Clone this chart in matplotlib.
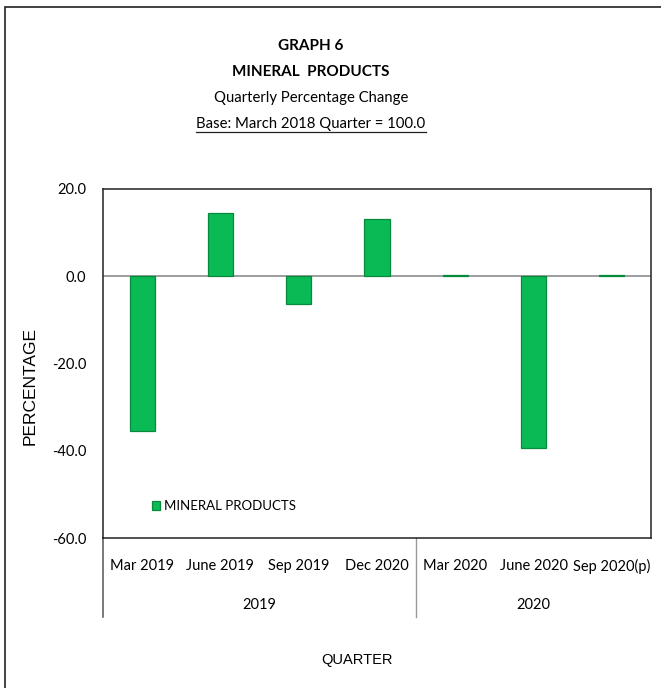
import matplotlib
matplotlib.use("Agg")
import matplotlib.pyplot as plt
from matplotlib.lines import Line2D
from matplotlib.patches import Rectangle

# data
quarters = ["Mar 2019", "June 2019", "Sep 2019", "Dec 2020",
            "Mar 2020", "June 2020", "Sep 2020(p)"]
years = ["2019", "2020"]
year_counts = [4, 3]
mineral_products = [-35.5, 14.6, -6.4, 13.2, 0.3, -39.4, 0.3]
y_ticks = [20.0, 0.0, -20.0, -40.0, -60.0]

CAL = ["Lato", "DejaVu Sans"]
ARIAL = ["Liberation Sans", "DejaVu Sans"]
W, H = 661, 688

fig = plt.figure(figsize=(W / 100, H / 100), dpi=100)
fig.patch.set_facecolor("white")

# outer chart border (right and bottom edges run off the image)
fig.add_artist(Rectangle((5 / W, -0.05), 1.2, 1 - 7 / H + 0.05,
                         transform=fig.transFigure, fill=False,
                         edgecolor="#222222", lw=1.2))

ax = fig.add_axes([103 / W, 150 / H, 548 / W, 349 / H])
x = list(range(len(quarters)))
ax.bar(x, mineral_products, width=0.32, color="#0ABA55",
       edgecolor="#078A3E", linewidth=0.9, zorder=3, label="MINERAL PRODUCTS")
ax.axhline(0, color="#8C8C8C", lw=1.2, zorder=2)

ax.set_xlim(-0.5, len(quarters) - 0.5)
ax.set_ylim(-60, 20)
ax.set_yticks(y_ticks)
ax.set_yticklabels([f"{v:.1f}" for v in y_ticks], fontfamily=CAL, fontsize=10.5)
ax.set_xticks(x)
ax.set_xticklabels(quarters, fontfamily=CAL, fontsize=10.5)
ax.tick_params(axis="y", length=0, pad=12)
ax.tick_params(axis="x", length=0, pad=15)
for s in ax.spines.values():
    s.set_color("#222222")
    s.set_linewidth(1.1)

# multi-level category axis: year groups and dividers
start = 0
for yr, n in zip(years, year_counts):
    centre = (start + n / 2) / len(quarters)
    ax.text(centre, -0.192, yr, transform=ax.transAxes, ha="center",
            va="center", fontfamily=CAL, fontsize=10.5)
    if start > 0:
        ax.add_line(Line2D([start / len(quarters)] * 2, [0, -0.226],
                           transform=ax.transAxes, color="#999999",
                           lw=1, clip_on=False))
    start += n
ax.add_line(Line2D([0, 0], [0, -0.226], transform=ax.transAxes,
                   color="#555555", lw=1.1, clip_on=False))

leg = ax.legend(loc="lower left", bbox_to_anchor=(0.068, 0.04), frameon=False,
                prop={"family": CAL, "size": 9.5}, handlelength=0.6,
                handleheight=0.6, handletextpad=0.3)

# titles
cx = 311 / W
fig.text(cx, 1 - 46 / H, "GRAPH 6", ha="center", va="center",
         fontfamily=CAL, fontsize=11, fontweight="bold")
fig.text(cx, 1 - 72 / H, "MINERAL  PRODUCTS", ha="center", va="center",
         fontfamily=CAL, fontsize=11, fontweight="bold")
fig.text(cx, 1 - 98 / H, "Quarterly Percentage Change", ha="center",
         va="center", fontfamily=CAL, fontsize=10.7)
base = fig.text(cx, 1 - 124 / H, "Base: March 2018 Quarter = 100.0",
                ha="center", va="center", fontfamily=CAL, fontsize=10.7)

fig.text(30 / W, 1 - 386 / H, "PERCENTAGE", rotation=90, ha="center",
         va="center", fontfamily=ARIAL, fontsize=12.5)
fig.text(357 / W, 1 - 660 / H, "QUARTER", ha="center", va="center",
         fontfamily=ARIAL, fontsize=10.5)

# underline the base line
fig.canvas.draw()
bb = base.get_window_extent()
fig.add_artist(Line2D([bb.x0 / W, bb.x1 / W], [(bb.y0 - 1) / H] * 2,
                      transform=fig.transFigure, color="#222222", lw=0.9))

fig.savefig("out.png", dpi=100)
